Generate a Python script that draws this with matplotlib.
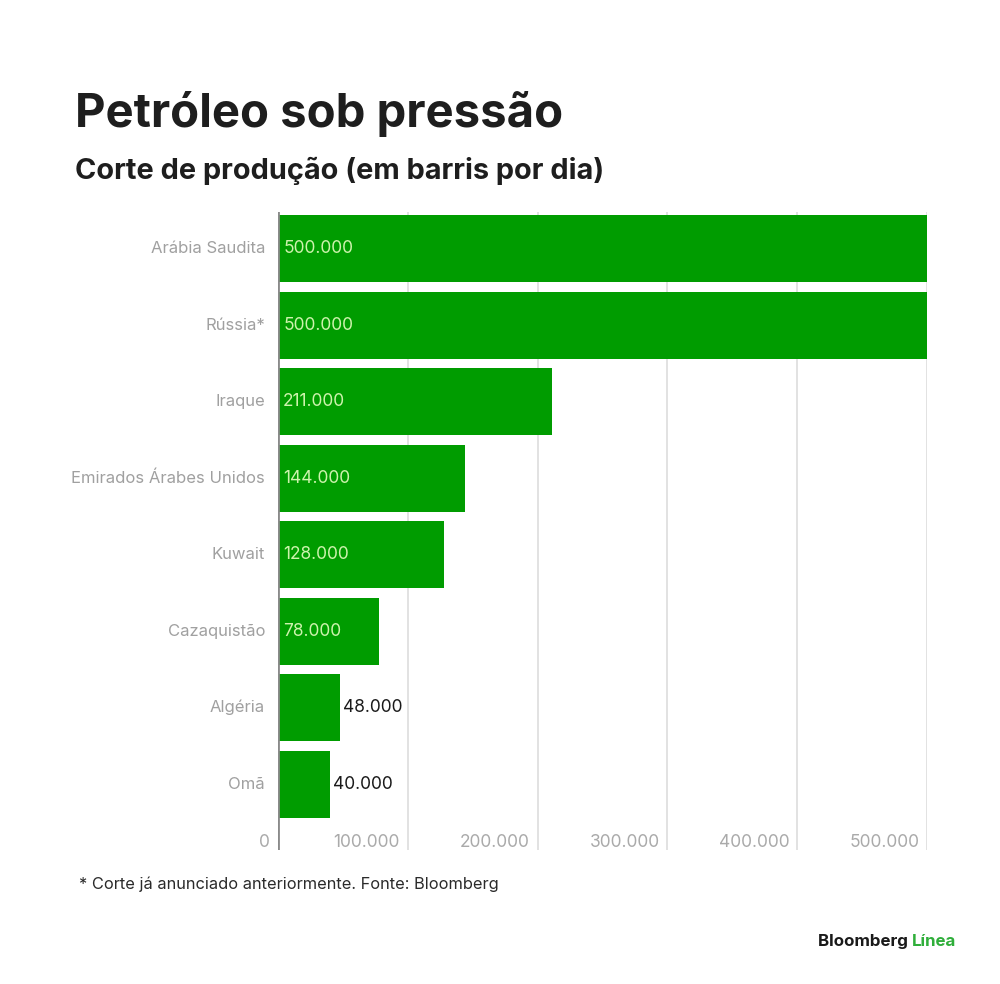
import matplotlib
matplotlib.use("Agg")
import matplotlib.pyplot as plt

categories = ["Arábia Saudita", "Rússia*", "Iraque", "Emirados Árabes Unidos",
              "Kuwait", "Cazaquistão", "Algéria", "Omã"]
values = [500000, 500000, 211000, 144000, 128000, 78000, 48000, 40000]
value_labels = ["500.000", "500.000", "211.000", "144.000", "128.000", "78.000", "48.000", "40.000"]
xticks = [0, 100000, 200000, 300000, 400000, 500000]
xtick_labels = ["0", "100.000", "200.000", "300.000", "400.000", "500.000"]

plt.rcParams['font.family'] = ['Inter', 'DejaVu Sans']

fig = plt.figure(figsize=(10, 9.84), dpi=100)
ax = fig.add_axes([0.278, 0.1362, 0.649, 0.6484])

GREEN = "#009c00"
y = list(range(len(categories)))
ax.barh(y, values, height=0.88, color=GREEN, zorder=3)
ax.set_xlim(0, 500000)
ax.set_ylim(7.86, -0.48)

for xv in xticks[1:]:
    ax.axvline(xv, color="#dadada", lw=1.1, zorder=1)
ax.axvline(0, color="#8a8a8a", lw=2, zorder=4)

for s in ax.spines.values():
    s.set_visible(False)
ax.set_xticks([])
ax.set_yticks([])

for i, (v, lab) in enumerate(zip(values, value_labels)):
    if v > 70000:
        ax.text(4000, i, lab, ha="left", va="center", fontsize=12.5, color="#cdf3ad", zorder=5)
    else:
        ax.text(v + 2000, i, lab, ha="left", va="center", fontsize=12.5, color="#1a1a1a", zorder=5)
    ax.text(-10000, i, categories[i], ha="right", va="center", fontsize=12, color="#a0a0a0")

for xv, lab in zip(xticks, xtick_labels):
    ax.text(xv - 6000, 7.76, lab, ha="right", va="center", fontsize=12.5, color="#aaaaaa")

fig.text(0.075, 0.871, "Petróleo sob pressão", fontsize=34, fontweight="bold",
         color="#1e1e1e", ha="left", va="baseline")
fig.text(0.075, 0.818, "Corte de produção (em barris por dia)", fontsize=20.8,
         fontweight="bold", color="#1e1e1e", ha="left", va="baseline")
fig.text(0.079, 0.097, "* Corte já anunciado anteriormente. Fonte: Bloomberg", fontsize=11.8,
         color="#2a2a2a", ha="left", va="baseline")
t1 = fig.text(0.818, 0.0385, "Bloomberg ", fontsize=12.2, fontweight="bold",
              color="#1a1a1a", ha="left", va="baseline")
fig.canvas.draw()
bb = t1.get_window_extent()
fig.text(bb.x1 / fig.bbox.width, 0.0385, "Línea", fontsize=12.2, fontweight="bold",
         color="#2fae3a", ha="left", va="baseline")

fig.savefig("out.png", dpi=100, facecolor="white")
